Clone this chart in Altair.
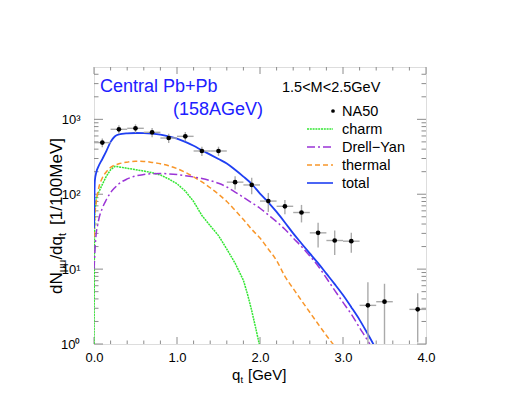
import altair as alt
import pandas as pd

# ---------------- data ----------------
# NA50 points (qt in GeV, dN/dqt per 100 MeV, symmetric error)
na50_qt = [0.1, 0.3, 0.5, 0.7, 0.9, 1.1, 1.3, 1.5, 1.7, 1.9, 2.1, 2.3, 2.5, 2.7, 2.9, 3.1, 3.3, 3.5, 3.9]
na50_val = [489, 736, 759, 671, 563, 593, 378, 378, 145, 133, 81, 69, 57, 30.5, 24.1, 23.6, 3.28, 3.67, 2.9]
na50_err = [64, 96, 99, 94, 79, 83, 53, 53, 29, 33, 23, 15, 15, 11, 8.7, 7.0, 3.4, 2.7, 1.85]
na50_binhalf = 0.1

# total
total_qt = [0.0, 0.01, 0.03, 0.05, 0.1, 0.15, 0.2, 0.25, 0.3, 0.4, 0.5, 0.6, 0.7, 0.8, 0.9, 1.0,
            1.1, 1.2, 1.3, 1.4, 1.5, 1.6, 1.7, 1.8, 1.9, 2.0, 2.1, 2.2, 2.3, 2.4, 2.5, 2.6, 2.7,
            2.8, 2.9, 3.0, 3.1, 3.2, 3.3, 3.4]
total_val = [35, 150, 200, 230, 295, 380, 500, 590, 628, 650, 657, 655, 645, 625, 592, 552,
             500, 443, 386, 338, 295, 257, 212, 172, 137, 102, 78, 58, 42, 30, 22, 16.2, 12,
             8.7, 6.3, 4.5, 3.1, 2.1, 1.35, 0.85]

# charm
charm_qt = [0.0, 0.005, 0.01, 0.03, 0.05, 0.1, 0.15, 0.2, 0.25, 0.3, 0.4, 0.5, 0.6, 0.7, 0.8, 0.9,
            1.0, 1.1, 1.2, 1.3, 1.4, 1.5, 1.6, 1.7, 1.8, 1.85, 1.9, 1.95, 2.0]
charm_val = [1.0, 20, 60, 90, 102, 135, 175, 212, 236, 232, 222, 213, 204, 194, 181, 160,
             138, 110, 80, 52, 38, 28, 18.5, 12, 7.1, 4.6, 2.8, 1.6, 0.9]

# thermal
thermal_qt = [0.0, 0.01, 0.03, 0.06, 0.1, 0.15, 0.2, 0.3, 0.4, 0.5, 0.6, 0.7, 0.8, 0.9, 1.0, 1.1,
              1.2, 1.3, 1.4, 1.5, 1.6, 1.7, 1.8, 1.9, 2.0, 2.1, 2.2, 2.3, 2.4, 2.5, 2.6, 2.7,
              2.8, 2.9, 3.0]
thermal_val = [27, 50, 83, 125, 165, 200, 228, 255, 268, 275, 274, 266, 255, 240, 220, 196,
               171, 146, 122, 100, 80, 61, 46, 34, 26, 18.5, 13, 8.0, 5.5, 3.8, 2.65, 1.85,
               1.3, 0.93, 0.65]

# Drell-Yan
dy_qt = [0.0, 0.02, 0.05, 0.1, 0.15, 0.2, 0.25, 0.3, 0.4, 0.5, 0.6, 0.7, 0.8, 0.9, 1.0, 1.1,
         1.2, 1.3, 1.4, 1.5, 1.6, 1.7, 1.8, 1.9, 2.0, 2.1, 2.2, 2.3, 2.4, 2.5, 2.6, 2.7, 2.8,
         2.9, 3.0, 3.1, 3.2, 3.3, 3.4]
dy_val = [10, 25, 42, 65, 85, 105, 122, 138, 160, 175, 183, 188, 189, 187, 183, 177,
          170, 162, 152, 140, 125, 107, 91, 77, 65, 53, 43, 34, 26, 20, 15, 11, 7.6,
          5.2, 3.6, 2.5, 1.65, 1.1, 0.7]

# axis ticks / labels
x_tick_vals = [0, 1, 2, 3, 4]
x_minor_vals = [0.2, 0.4, 0.6, 0.8, 1.2, 1.4, 1.6, 1.8, 2.2, 2.4, 2.6, 2.8, 3.2, 3.4, 3.6, 3.8]
y_tick_vals = [1, 10, 100, 1000]
y_tick_labels = ["10⁰", "10¹", "10²", "10³"]
y_minor_vals = [2, 3, 4, 5, 6, 7, 8, 9, 20, 30, 40, 50, 60, 70, 80, 90,
                200, 300, 400, 500, 600, 700, 800, 900, 2000, 3000, 4000]

legend_labels = ["NA50", "charm", "Drell−Yan", "thermal", "total"]
title_line1 = "Central Pb+Pb"
title_line2 = "(158AGeV)"
mass_label = "1.5<M<2.5GeV"

# ---------------- styling ----------------
W, H = 332, 277
FONT = "Liberation Sans"
FRAME = "#8c8c8c"
C_TOTAL = "#1f3ff2"
C_CHARM = "#33e633"
C_DY = "#9b35d6"
C_TH = "#f8962a"
C_ERR = "#aaaaaa"

xs = alt.Scale(domain=[0, 4], nice=False, zero=False)
ys = alt.Scale(type="log", domain=[1, 5000], nice=False)

parts = [f"datum.value == {v} ? '{l}'" for v, l in zip(y_tick_vals[:-1], y_tick_labels[:-1])]
y_label_expr = " : ".join(parts) + f" : '{y_tick_labels[-1]}'"

xaxis = alt.Axis(values=x_tick_vals, format=".1f", ticks=False, domain=False, grid=False,
                 labelFontSize=13, labelPadding=7, labelColor="black", title=None,
                 labelFont=FONT, labelFlush=False)
yaxis = alt.Axis(values=y_tick_vals, labelExpr=y_label_expr, ticks=False, domain=False,
                 grid=False, labelFontSize=13, labelPadding=14, labelColor="black",
                 title=None, labelFont=FONT)


def X(f):
    return alt.X(f, type="quantitative", scale=xs, axis=xaxis)


def Y(f):
    return alt.Y(f, type="quantitative", scale=ys, axis=yaxis)


layers = []

# tick marks (inward, on all four sides)
df_ymaj = pd.DataFrame({"v": y_tick_vals})
df_ymin = pd.DataFrame({"v": y_minor_vals})
df_xmaj = pd.DataFrame({"v": x_tick_vals})
df_xmin = pd.DataFrame({"v": x_minor_vals})
for df, ln in [(df_ymaj, 9), (df_ymin, 4.5)]:
    layers.append(alt.Chart(df).mark_rule(color=FRAME, strokeWidth=1).encode(
        y=Y("v"), x=alt.value(0), x2=alt.value(ln)))
    layers.append(alt.Chart(df).mark_rule(color=FRAME, strokeWidth=1).encode(
        y=Y("v"), x=alt.value(W), x2=alt.value(W - ln)))
for df, ln in [(df_xmaj, 7), (df_xmin, 3.5)]:
    layers.append(alt.Chart(df).mark_rule(color=FRAME, strokeWidth=1).encode(
        x=X("v"), y=alt.value(H), y2=alt.value(H - ln)))
    layers.append(alt.Chart(df).mark_rule(color=FRAME, strokeWidth=1).encode(
        x=X("v"), y=alt.value(0), y2=alt.value(ln)))

# curves
curves = [
    (charm_qt, charm_val, C_CHARM, {"strokeDash": [2, 0.8]}, 1.5, "linear"),
    (thermal_qt, thermal_val, C_TH, {"strokeDash": [5, 3]}, 1.5, "monotone"),
    (dy_qt, dy_val, C_DY, {"strokeDash": [8, 3, 2, 3]}, 1.5, "monotone"),
    (total_qt, total_val, C_TOTAL, {}, 1.8, "monotone"),
]
for qts, vals, col, dash, sw, interp in curves:
    df = pd.DataFrame({"qt": qts, "v": vals})
    layers.append(alt.Chart(df).mark_line(color=col, strokeWidth=sw, clip=True,
                                          interpolate=interp, **dash).encode(
        x=X("qt"), y=Y("v")))

# NA50 data with error bars
df_p = pd.DataFrame({"qt": na50_qt, "v": na50_val, "e": na50_err})
df_p["lo"] = (df_p["v"] - df_p["e"]).clip(lower=0.5)
df_p["hi"] = df_p["v"] + df_p["e"]
df_p["x0"] = df_p["qt"] - na50_binhalf
df_p["x1"] = df_p["qt"] + na50_binhalf
layers.append(alt.Chart(df_p).mark_rule(color=C_ERR, strokeWidth=1.4, clip=True).encode(
    x=X("qt"), y=Y("lo"), y2="hi"))
layers.append(alt.Chart(df_p).mark_rule(color=C_ERR, strokeWidth=1.4, clip=True).encode(
    x=X("x0"), x2="x1", y=Y("v")))
layers.append(alt.Chart(df_p).mark_circle(color="black", size=22, opacity=1, clip=True).encode(
    x=X("qt"), y=Y("v")))


def txt(s, x, y, size, color="black", angle=0):
    return alt.Chart(pd.DataFrame({"t": [s]})).mark_text(
        align="left", baseline="alphabetic", fontSize=size, font=FONT, color=color,
        angle=angle).encode(x=alt.value(x), y=alt.value(y), text="t:N")


# annotations
layers.append(txt(title_line1, 6, 24.5, 18, "#2020ff"))
layers.append(txt(title_line2, 79, 48, 18, "#2020ff"))
layers.append(txt(mass_label, 188, 24.5, 14.5))

# legend
leg_colors = ["black", C_CHARM, C_DY, C_TH, C_TOTAL]
leg_dash = [None, [2, 0.8], [8, 3, 2, 3], [5, 3], None]
for i, lab in enumerate(legend_labels):
    base = 49 + 18 * i
    layers.append(txt(lab, 248, base, 14.5))
    if i == 0:
        layers.append(alt.Chart(pd.DataFrame({"t": [lab]})).mark_circle(
            color="black", size=14, opacity=1).encode(x=alt.value(239), y=alt.value(base - 5)))
    else:
        kw = {"strokeDash": leg_dash[i]} if leg_dash[i] else {}
        layers.append(alt.Chart(pd.DataFrame({"t": [lab]})).mark_rule(
            color=leg_colors[i], strokeWidth=1.6, **kw).encode(
            x=alt.value(213), x2=alt.value(239), y=alt.value(base - 5)))

# x title: q_t [GeV]
layers.append(txt("q", 138, 313, 15))
layers.append(txt("t", 146.5, 316, 9.5))
layers.append(txt("[GeV]", 154, 313, 15))

# y title: dN_{μμ}/dq_t  [1/100MeV]   (rotated)
layers.append(txt("dN", -32, 227, 17, angle=270))
layers.append(txt("μμ", -28.5, 205.3, 11, angle=270))
layers.append(txt("/dq", -32, 192.6, 17, angle=270))
layers.append(txt("t", -28.5, 169, 11, angle=270))
layers.append(txt("[1/100MeV]", -32, 158, 17, angle=270))

chart = alt.layer(*layers).properties(
    width=W, height=H,
    autosize=alt.AutoSizeParams(type="none"),
    padding={"left": 86, "top": 59, "right": 80, "bottom": 45},
).configure_view(stroke=FRAME, strokeWidth=1).configure(font=FONT)

chart.save("out.html", embed_options={"renderer": "svg", "actions": False})
